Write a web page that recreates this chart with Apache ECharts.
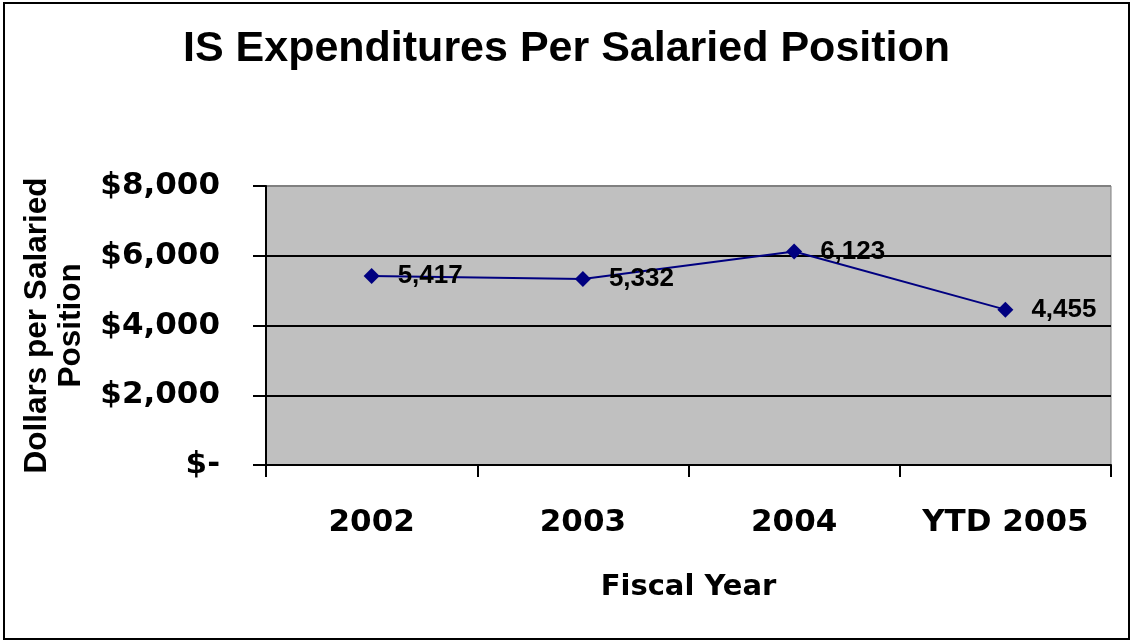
<!DOCTYPE html>
<html>
<head>
<meta charset="utf-8">
<script src="https://cdn.jsdelivr.net/npm/echarts@6/dist/echarts.min.js"></script>
<style>
html,body{margin:0;padding:0;background:#fff;}
#chart{width:1133px;height:643px;}
</style>
</head>
<body>
<div id="chart"></div>
<script>
var categories = ['2002', '2003', '2004', 'YTD 2005'];
var expenditures = [5417, 5332, 6123, 4455];
var yTicks = [0, 2000, 4000, 6000, 8000];

var chart = echarts.init(document.getElementById('chart'), null, {renderer: 'canvas'});
var arial = '"Liberation Sans", Arial, sans-serif';
var wide = '"DejaVu Sans", sans-serif';

chart.setOption({
  animation: false,
  backgroundColor: '#ffffff',
  title: {
    text: 'IS Expenditures Per Salaried Position',
    left: 'center',
    top: 28,
    padding: 0,
    textStyle: {fontFamily: arial, fontWeight: 'bold', fontSize: 43, color: '#000'}
  },
  graphic: [{
    type: 'rect',
    shape: {x: 4, y: 3, width: 1125, height: 636},
    style: {fill: 'none', stroke: '#000', lineWidth: 2},
    silent: true
  }],
  grid: {
    left: 266, right: 22, top: 186, bottom: 178,
    show: true, backgroundColor: '#C0C0C0', borderColor: '#808080', borderWidth: 1
  },
  xAxis: {
    type: 'category',
    data: categories,
    boundaryGap: true,
    name: 'Fiscal Year',
    nameLocation: 'middle',
    nameGap: 108,
    nameTextStyle: {fontFamily: wide, fontWeight: 'bold', fontSize: 29, color: '#000'},
    axisLine: {show: true, lineStyle: {color: '#000', width: 2}},
    axisTick: {show: true, interval: 0, length: 12, lineStyle: {color: '#000', width: 2}},
    axisLabel: {interval: 0, fontFamily: wide, fontWeight: 'bold', fontSize: 31, color: '#000', margin: 42},
    splitLine: {show: false}
  },
  yAxis: {
    type: 'value',
    min: yTicks[0],
    max: yTicks[yTicks.length - 1],
    interval: 2000,
    name: 'Dollars per Salaried\nPosition',
    nameLocation: 'middle',
    nameRotate: 90,
    nameGap: 178,
    nameTextStyle: {fontFamily: arial, fontWeight: 'bold', fontSize: 31.5, lineHeight: 34, color: '#000'},
    axisLine: {show: true, lineStyle: {color: '#000', width: 2}},
    axisTick: {show: true, length: 13, lineStyle: {color: '#000', width: 2}},
    axisLabel: {
      fontFamily: wide, fontWeight: 'bold', fontSize: 31, color: '#000', margin: 46,
      formatter: function (v) { return v === 0 ? '$-' : '$' + v.toLocaleString('en-US'); }
    },
    splitLine: {show: true, lineStyle: {color: ['#000', '#000', '#000', '#000', '#808080'], width: 2}}
  },
  series: [{
    type: 'line',
    data: expenditures,
    symbol: 'diamond',
    symbolSize: 16,
    lineStyle: {color: '#000080', width: 2},
    itemStyle: {color: '#000080'},
    label: {
      show: true, position: 'right', distance: 18,
      fontFamily: arial, fontWeight: 'bold', fontSize: 26, color: '#000',
      formatter: function (p) { return p.value.toLocaleString('en-US'); }
    }
  }]
});
</script>
</body>
</html>
